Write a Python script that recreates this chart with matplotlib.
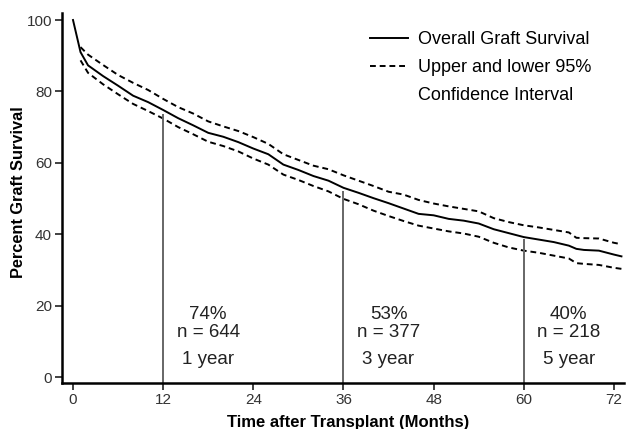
import numpy as np
from matplotlib import pyplot as plt
from matplotlib.lines import Line2D

plt.rcParams['font.family'] = ['Liberation Sans', 'DejaVu Sans']

# Kaplan-Meier graft survival
months = [0, 1, 2, 4, 6, 8, 10, 12, 14, 16, 18, 20, 22, 24, 26, 28, 30, 32, 34, 36,
          38, 40, 42, 44, 46, 48, 50, 52, 54, 56, 58, 60, 62, 64, 66, 67, 68, 70, 72, 73]
overall = [100, 91.0, 87.3, 84.3, 81.6, 78.8, 77.0, 74.8, 72.5, 70.5, 68.4, 67.3, 65.8,
           64.0, 62.4, 59.5, 58.0, 56.3, 55.0, 53.0, 51.6, 50.1, 48.7, 47.2, 45.7, 45.3,
           44.3, 43.8, 43.0, 41.4, 40.3, 39.2, 38.5, 37.8, 36.8, 35.9, 35.6, 35.4, 34.3, 33.8]

months_ci = months[1:]
upper = [92.4, 90.3, 87.4, 84.6, 82.4, 80.4, 77.9, 75.6, 73.8, 71.6, 70.2, 68.9, 67.2,
         65.3, 62.4, 60.8, 59.2, 58.2, 56.5, 55.0, 53.5, 51.9, 51.1, 49.6, 48.6, 47.8,
         47.1, 46.4, 44.5, 43.4, 42.5, 41.9, 41.2, 40.5, 39.0, 38.9, 38.8, 37.6, 37.2]
lower = [88.7, 85.2, 82.0, 79.2, 76.5, 74.5, 72.4, 70.0, 68.0, 65.9, 64.7, 63.2, 61.2,
         59.5, 56.7, 55.2, 53.5, 52.0, 49.9, 48.4, 46.6, 45.1, 43.7, 42.4, 41.6, 40.8,
         40.2, 39.3, 37.6, 36.3, 35.4, 34.8, 34.0, 33.2, 31.9, 31.7, 31.4, 30.6, 30.3]

# milestones
mark_months = [12, 36, 60]
mark_pct = [74, 53, 40]
mark_n = [644, 377, 218]
mark_label = ["1 year", "3 year", "5 year"]
line_tops = [73.8, 52.2, 38.6]

fig = plt.figure(figsize=(6.3, 4.29), dpi=100)
ax = fig.add_axes([0.098, 0.107, 0.892, 0.863])

ax.plot(months, overall, color='black', lw=1.4)
ax.plot(months_ci, upper, color='black', lw=1.4, ls=(0, (3, 2)))
ax.plot(months_ci, lower, color='black', lw=1.4, ls=(0, (3, 2)))

ax.set_xlim(-1.5, 73.3)
ax.set_ylim(-1.7, 102)
ybot = ax.get_ylim()[0]
ax.vlines(mark_months, ybot, line_tops, color='#666666', lw=1.4)

for m, p, n, lab in zip(mark_months, mark_pct, mark_n, mark_label):
    ax.text(m + 6, 17.5, f"{p}%", ha='center', va='center', fontsize=13.5, color='#222222')
    ax.text(m + 6, 12.4, f"n = {n}", ha='center', va='center', fontsize=13.5, color='#222222')
    ax.text(m + 6, 4.8, lab, ha='center', va='center', fontsize=13.5, color='#222222')

ax.set_xticks(np.arange(0, 73, 12))
ax.set_yticks(np.arange(0, 101, 20))
ax.tick_params(length=5, width=1.3, pad=2, color='#333333', labelcolor='#333333', labelsize=11)
for s in ['top', 'right']:
    ax.spines[s].set_visible(False)
for s in ['left', 'bottom']:
    ax.spines[s].set_linewidth(1.8)

ax.set_xlabel("Time after Transplant (Months)", fontsize=12, fontweight='bold')
ax.xaxis.set_label_coords(0.51, -0.085)
ax.set_ylabel("Percent Graft Survival", fontsize=11.8, fontweight='bold', va='center')
ax.yaxis.set_label_coords(-0.077, 0.515)

handles = [Line2D([], [], color='black', lw=1.4),
           Line2D([], [], color='black', lw=1.4, ls=(0, (3, 2))),
           Line2D([], [], color='none')]
labels = ["Overall Graft Survival", "Upper and lower 95%", "Confidence Interval"]
ax.legend(handles, labels, loc='upper left', bbox_to_anchor=(0.548, 0.95), frameon=False,
          fontsize=13, handlelength=2.1, handletextpad=0.55, labelspacing=0.6,
          borderpad=0, borderaxespad=0)

fig.savefig("out.png", dpi=100)
